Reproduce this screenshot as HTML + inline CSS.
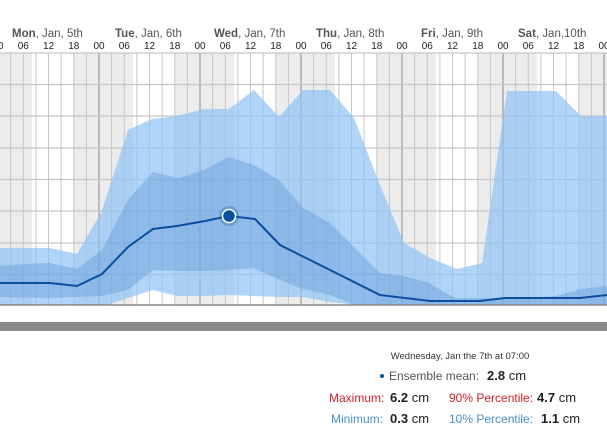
<!DOCTYPE html>
<html><head><meta charset="utf-8"><style>
body{margin:0;width:607px;height:442px;background:#fff;overflow:hidden;font-family:"Liberation Sans",sans-serif;}
</style></head><body>
<svg width="607" height="442" xmlns="http://www.w3.org/2000/svg" style="position:absolute;left:0;top:0">
<g fill="#ececec">
<rect x="0" y="53" width="32" height="252"/>
<rect x="74" y="53" width="59" height="252"/>
<rect x="175" y="53" width="59" height="252"/>
<rect x="276" y="53" width="59" height="252"/>
<rect x="377" y="53" width="59" height="252"/>
<rect x="478" y="53" width="59" height="252"/>
<rect x="579" y="53" width="28" height="252"/>
</g>
<path stroke="#c6c6c6" stroke-width="1" fill="none" d="M10.6 53V305M23.3 53V305M35.9 53V305M48.5 53V305M61.1 53V305M73.8 53V305M86.4 53V305M111.6 53V305M124.3 53V305M136.9 53V305M149.5 53V305M162.1 53V305M174.8 53V305M187.4 53V305M212.6 53V305M225.3 53V305M237.9 53V305M250.5 53V305M263.1 53V305M275.8 53V305M288.4 53V305M313.6 53V305M326.3 53V305M338.9 53V305M351.5 53V305M364.1 53V305M376.8 53V305M389.4 53V305M414.6 53V305M427.3 53V305M439.9 53V305M452.5 53V305M465.1 53V305M477.8 53V305M490.4 53V305M515.6 53V305M528.3 53V305M540.9 53V305M553.5 53V305M566.1 53V305M578.8 53V305M591.4 53V305"/>
<path stroke="#8a8a8a" stroke-width="1" fill="none" d="M99 53V305M200 53V305M301 53V305M402 53V305M503 53V305M604 53V305"/>
<g stroke="#c6c6c6" stroke-width="1.2">
<line x1="0" x2="607" y1="53" y2="53"/><line x1="0" x2="607" y1="84.5" y2="84.5"/>
<line x1="0" x2="607" y1="116" y2="116"/><line x1="0" x2="607" y1="148" y2="148"/>
<line x1="0" x2="607" y1="179.5" y2="179.5"/><line x1="0" x2="607" y1="211" y2="211"/>
<line x1="0" x2="607" y1="243" y2="243"/><line x1="0" x2="607" y1="274.5" y2="274.5"/>
</g>
<polygon fill="rgba(144,195,245,0.7)" points="0,248 25,248 50,248 77,254 101,213 128,130 152,119 177,116 204,109 229,109 254,90 279,117 303,90 330,90 354,118 380,185 404,243 430,258 457,269 482,263 507,91 530,91 556,91 581,116 607,116 607,305 354,305 330,302 303,297 279,297 254,296 229,295 204,296 177,296 153,290 128,298 107,305 0,305"/>
<polygon fill="rgba(80,140,210,0.35)" points="0,266 25,264 50,263 77,269 102,250 128,200 153,172 179,178 204,170 229,157 254,165 279,180 303,208 330,223 380,273 404,276 429,283 455,298 480,298 530,298 556,296 581,289 607,286 607,305 354,305 330,295 300,288 278,279 253,268 229,270 205,271 177,271 153,270 128,290 102,296 77,297 50,298 0,297"/>
<polyline fill="none" stroke="#0b4f9e" stroke-width="2" points="0,283 50,283 77,286 102,274 128,247 153,229 177,226 205,221 229,216 255,219 280,245 300,255 330,270 380,295 430,301 480,301 505,298 556,298 580,298 607,295"/>
<circle cx="229" cy="216" r="10" fill="rgba(11,79,158,0.25)"/>
<circle cx="229" cy="216" r="6.5" fill="#0b4f9e" stroke="#fff" stroke-width="1.5"/>
<line x1="0" x2="607" y1="305" y2="305" stroke="#888" stroke-width="1.5"/>
<rect x="0" y="322" width="607" height="9" fill="#8a8a8a"/>
<g font-size="11.5" fill="#555">
<text x="12" y="37"><tspan font-weight="bold">Mon</tspan>, Jan, 5th</text>
<text x="115" y="37"><tspan font-weight="bold">Tue</tspan>, Jan, 6th</text>
<text x="214" y="37"><tspan font-weight="bold">Wed</tspan>, Jan, 7th</text>
<text x="316" y="37"><tspan font-weight="bold">Thu</tspan>, Jan, 8th</text>
<text x="421" y="37"><tspan font-weight="bold">Fri</tspan>, Jan, 9th</text>
<text x="518" y="37"><tspan font-weight="bold">Sat</tspan>, Jan,10th</text>
</g>
<g font-size="10" fill="#222" text-anchor="middle">
<text x="-2" y="49">00</text><text x="23.3" y="49">06</text><text x="48.5" y="49">12</text><text x="73.8" y="49">18</text>
<text x="99" y="49">00</text><text x="124.3" y="49">06</text><text x="149.5" y="49">12</text><text x="174.8" y="49">18</text>
<text x="200" y="49">00</text><text x="225.3" y="49">06</text><text x="250.5" y="49">12</text><text x="275.8" y="49">18</text>
<text x="301" y="49">00</text><text x="326.3" y="49">06</text><text x="351.5" y="49">12</text><text x="376.8" y="49">18</text>
<text x="402" y="49">00</text><text x="427.3" y="49">06</text><text x="452.5" y="49">12</text><text x="477.8" y="49">18</text>
<text x="503" y="49">00</text><text x="528.3" y="49">06</text><text x="553.5" y="49">12</text><text x="578.8" y="49">18</text>
<text x="604" y="49">00</text>
</g>
<g font-size="10.5">
<text x="460" y="359" text-anchor="middle" fill="#333" font-size="9.5">Wednesday, Jan the 7th at 07:00</text>
<circle cx="382" cy="376" r="2" fill="#0b4f9e"/>
<text x="389" y="380" fill="#555" font-size="12">Ensemble mean:</text>
<text x="487" y="380" fill="#222" font-size="13"><tspan font-weight="bold">2.8</tspan> cm</text>
<text x="329" y="402" fill="#d0202a" font-size="12">Maximum:</text>
<text x="390" y="402" fill="#222" font-size="13"><tspan font-weight="bold">6.2</tspan> cm</text>
<text x="449" y="402" fill="#d0202a" font-size="12">90% Percentile:</text>
<text x="537" y="402" fill="#222" font-size="13"><tspan font-weight="bold">4.7</tspan> cm</text>
<text x="331" y="423" fill="#4a90c8" font-size="12">Minimum:</text>
<text x="390" y="423" fill="#222" font-size="13"><tspan font-weight="bold">0.3</tspan> cm</text>
<text x="449" y="423" fill="#4a90c8" font-size="12">10% Percentile:</text>
<text x="541" y="423" fill="#222" font-size="13"><tspan font-weight="bold">1.1</tspan> cm</text>
</g>
</svg>
</body></html>
